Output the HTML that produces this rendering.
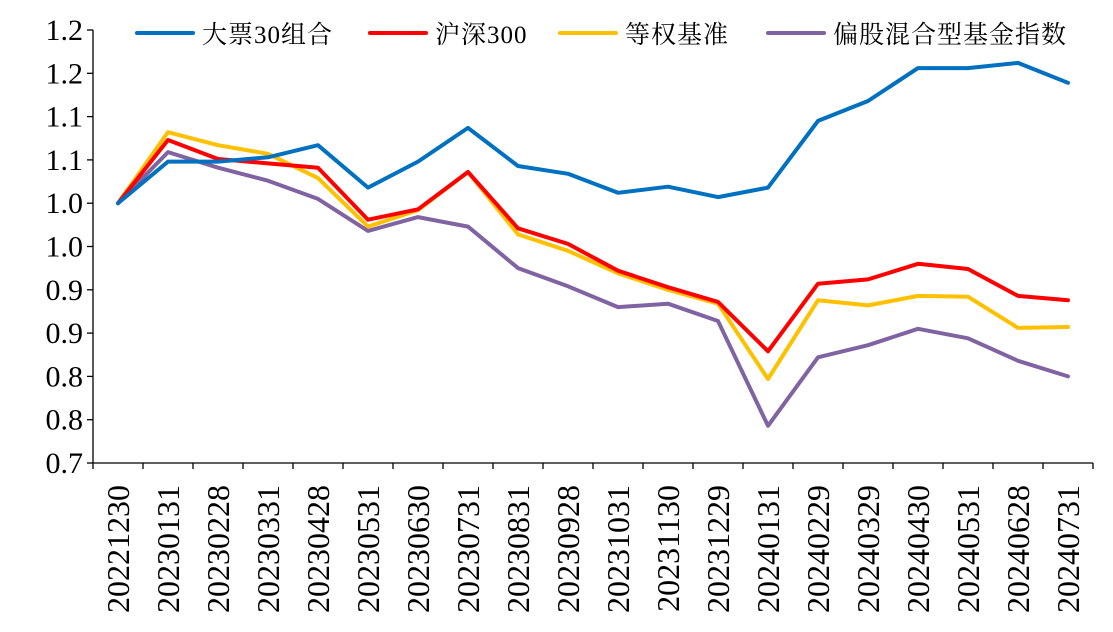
<!DOCTYPE html>
<html><head><meta charset="utf-8"><style>
html,body{margin:0;padding:0;background:#fff;}
svg text{font-family:"Liberation Serif","DejaVu Serif","Noto Serif CJK SC",serif;fill:#000;}
</style></head><body>
<svg id="chart" width="1113" height="627" viewBox="0 0 1113 627" xmlns="http://www.w3.org/2000/svg"></svg>
<script>
const categories=["20221230","20230131","20230228","20230331","20230428","20230531","20230630","20230731","20230831","20230928","20231031","20231130","20231229","20240131","20240229","20240329","20240430","20240531","20240628","20240731"];
const seriesBlue=[1.0,1.048,1.048,1.053,1.067,1.018,1.048,1.087,1.043,1.034,1.012,1.019,1.007,1.018,1.095,1.118,1.156,1.156,1.162,1.139];
const seriesRed=[1.0,1.073,1.051,1.046,1.041,0.981,0.993,1.036,0.971,0.953,0.922,0.903,0.886,0.829,0.907,0.912,0.930,0.924,0.893,0.888];
const seriesYellow=[1.0,1.082,1.067,1.057,1.029,0.973,0.992,1.036,0.964,0.945,0.919,0.900,0.884,0.797,0.888,0.882,0.893,0.892,0.856,0.857];
const seriesPurple=[1.0,1.059,1.041,1.026,1.005,0.968,0.984,0.973,0.925,0.904,0.880,0.884,0.864,0.743,0.822,0.836,0.855,0.844,0.818,0.800];
const seriesNames=["大票30组合","沪深300","等权基准","偏股混合型基金指数"];
const tickValues=[0.7,0.75,0.8,0.85,0.9,0.95,1.0,1.05,1.1,1.15,1.2];
const tickLabels=["0.7","0.8","0.8","0.9","0.9","1.0","1.0","1.1","1.1","1.2","1.2"];
const NS="http://www.w3.org/2000/svg";
const FONT="'Liberation Serif','DejaVu Serif','Noto Serif CJK SC',serif";
const svg=document.getElementById('chart');
const X0=93,X1=1093,Y0=463,Y1=30,vmin=0.7,vmax=1.2;
const band=(X1-X0)/categories.length;
const xs=i=>X0+band*(i+0.5);
const ys=v=>Y0-(v-vmin)/(vmax-vmin)*(Y0-Y1);
function mk(t,a){const e=document.createElementNS(NS,t);for(const k in a)e.setAttribute(k,a[k]);if(t==='text')e.setAttribute('font-family',FONT);svg.appendChild(e);return e;}
let ax=mk('line',{x1:X0,y1:Y1,x2:X0,y2:Y0,stroke:'#000','stroke-width':1.3});


let bx=mk('line',{x1:X0,y1:Y0,x2:X1,y2:Y0,stroke:'#000','stroke-width':1.3});


tickValues.forEach((v,i)=>{
  const y=ys(v);
  const tk=mk('line',{x1:X0-6,y1:y,x2:X0,y2:y,stroke:'#000','stroke-width':1.3});
  
  
  const t=mk('text',{x:83,y:y+10,'text-anchor':'end','font-size':30});
  t.textContent=tickLabels[i];
  
  
});
for(let i=0;i<=categories.length;i++){
  const x=X0+band*i;
  const tk=mk('line',{x1:x,y1:Y0,x2:x,y2:Y0+6,stroke:'#000','stroke-width':1.3});
  
  
}
categories.forEach((c,i)=>{
  const x=xs(i)+11;
  const t=mk('text',{x:x,y:485,'text-anchor':'end','font-size':32,transform:`rotate(-90 ${x} 485)`});
  t.textContent=c;
  
  
});
const allSeries=[seriesBlue,seriesRed,seriesYellow,seriesPurple];
const colors=['#0070c0','#ff0000','#ffc000','#8064a2'];
const order=[3,2,1,0];
order.forEach(s=>{
  const d=allSeries[s].map((v,i)=>(i?'L':'M')+xs(i).toFixed(1)+' '+ys(v).toFixed(1)).join(' ');
  const p=mk('path',{d:d,fill:'none',stroke:colors[s],'stroke-width':4,'stroke-linejoin':'round','stroke-linecap':'round'});
  
  
});
const legX=[137,370,560,768];
seriesNames.forEach((n,i)=>{
  const l=mk('line',{x1:legX[i],y1:33,x2:legX[i]+56,y2:33,stroke:colors[i],'stroke-width':4,'stroke-linecap':'round'});
  
  
  const t=mk('text',{x:legX[i]+65,y:43,'font-size':25,'letter-spacing':1});
  t.textContent=n;
  
  
});
</script>
</body></html>
